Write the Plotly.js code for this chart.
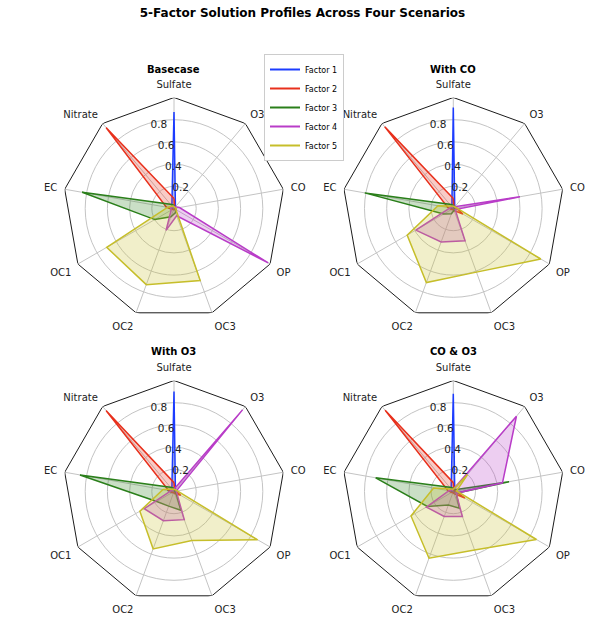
<!DOCTYPE html>
<html><head><meta charset="utf-8">
<script src="https://cdn.plot.ly/plotly-3.0.1.min.js"></script>
<style>html,body{margin:0;padding:0;background:#fff}</style>
</head><body><div id="chart" style="width:605px;height:625px"></div>
<script>
// Categories in counter-clockwise order starting at the top
const categories = ['Sulfate','Nitrate','EC','OC1','OC2','OC3','OP','CO','O3'];
const factorNames = ['Factor 1','Factor 2','Factor 3','Factor 4','Factor 5'];
const scenarioNames = ['Basecase','With CO','With O3','CO & O3'];
const radialTicks = [0.2, 0.4, 0.6, 0.8];
const radialMax = 1.0;

// values per factor, order as in categories
const basecase = [
  [0.87, 0.03, 0.02, 0.01, 0.01, 0.01, 0.01, 0.01, 0.02],
  [0.09, 0.95, 0.07, 0.02, 0.01, 0.01, 0.02, 0.01, 0.01],
  [0.03, 0.05, 0.84, 0.20, 0.08, 0.04, 0.02, 0.01, 0.01],
  [0.02, 0.02, 0.03, 0.03, 0.21, 0.07, 0.98, 0.05, 0.02],
  [0.02, 0.03, 0.06, 0.70, 0.73, 0.69, 0.02, 0.02, 0.01]
];
const withCO = [
  [0.91, 0.02, 0.02, 0.01, 0.01, 0.01, 0.01, 0.01, 0.02],
  [0.09, 0.96, 0.05, 0.02, 0.01, 0.02, 0.10, 0.03, 0.01],
  [0.03, 0.05, 0.81, 0.10, 0.05, 0.02, 0.02, 0.01, 0.01],
  [0.02, 0.02, 0.03, 0.39, 0.32, 0.31, 0.02, 0.61, 0.02],
  [0.02, 0.03, 0.14, 0.48, 0.71, 0.61, 0.91, 0.03, 0.02]
];
const withO3 = [
  [0.90, 0.03, 0.06, 0.02, 0.01, 0.01, 0.01, 0.01, 0.02],
  [0.08, 0.95, 0.05, 0.02, 0.01, 0.02, 0.07, 0.02, 0.01],
  [0.03, 0.05, 0.86, 0.18, 0.14, 0.18, 0.02, 0.01, 0.01],
  [0.02, 0.02, 0.03, 0.31, 0.28, 0.27, 0.03, 0.02, 0.96],
  [0.02, 0.03, 0.10, 0.355, 0.55, 0.47, 0.87, 0.03, 0.02]
];
const coAndO3 = [
  [0.88, 0.03, 0.02, 0.01, 0.01, 0.01, 0.01, 0.01, 0.02],
  [0.08, 0.955, 0.05, 0.02, 0.01, 0.02, 0.12, 0.02, 0.01],
  [0.03, 0.05, 0.71, 0.27, 0.13, 0.16, 0.03, 0.51, 0.02],
  [0.02, 0.02, 0.04, 0.28, 0.24, 0.24, 0.03, 0.45, 0.885],
  [0.02, 0.03, 0.18, 0.44, 0.64, 0.56, 0.865, 0.03, 0.20]
];
const scenarios = [basecase, withCO, withO3, coAndO3];

const lineColors = ['#1c3cff','#e8301c','#2a7f1a','#b93cc8','#c6be2a'];
const fillColors = ['rgba(28,60,255,0.25)','rgba(232,48,28,0.25)','rgba(42,127,26,0.25)','rgba(185,60,200,0.25)','rgba(198,190,42,0.25)'];

const FONT = 'DejaVu Sans, Liberation Sans, sans-serif';
const W = 605, H = 625, RPX = 111;
const centers = [[174, 208.5], [453.3, 208.5], [174, 491.5], [453.3, 491.5]];
const titleY = [69.3, 69.3, 351, 351];
const RAXIS_ANGLE = 109;

const close = a => a.concat([a[0]]);
const closedCats = close(categories);

const traces = [];
const layout = {
  width: W, height: H,
  margin: {l:0, r:0, t:0, b:0},
  paper_bgcolor: '#fff',
  font: {family: FONT, color: '#222'},
  showlegend: true,
  title: {text: '<b>5-Factor Solution Profiles Across Four Scenarios</b>', x: 0.5, xanchor: 'center', y: 1 - 13/H, yanchor: 'middle', font: {size: 12, color: '#000', family: FONT}},
  legend: {x: 264/W, y: 1 - 54/H, xanchor: 'left', yanchor: 'top', font: {size: 8, color: '#000'}, bordercolor: '#cccccc', borderwidth: 1, bgcolor: '#fff', tracegroupgap: 0},
  annotations: []
};

scenarios.forEach((sc, si) => {
  const pid = si === 0 ? 'polar' : 'polar' + (si + 1);
  const [cx, cy] = centers[si];
  layout[pid] = {
    domain: {x: [(cx - RPX)/W, (cx + RPX)/W], y: [1 - (cy + RPX)/H, 1 - (cy - RPX)/H]},
    bgcolor: 'rgba(0,0,0,0)',
    angularaxis: {type: 'category', categoryarray: categories, rotation: 90, direction: 'counterclockwise',
      showline: false, gridcolor: '#c4c4c4', gridwidth: 1, ticks: 'outside', ticklen: 5, tickcolor: 'rgba(0,0,0,0)',
      tickfont: {size: 10, color: '#222'}},
    radialaxis: {range: [0, radialMax], tickvals: radialTicks, ticktext: radialTicks.map(String), showline: false,
      gridcolor: '#c4c4c4', gridwidth: 1, ticks: '', angle: RAXIS_ANGLE, tickangle: RAXIS_ANGLE,
      tickfont: {size: 10.5, color: '#222'}}
  };
  // outer polygon frame
  traces.push({type: 'scatterpolar', subplot: pid, theta: closedCats, r: closedCats.map(() => radialMax),
    mode: 'lines', line: {color: '#000', width: 0.9}, hoverinfo: 'skip', showlegend: false});
  sc.forEach((vals, fi) => {
    traces.push({type: 'scatterpolar', subplot: pid, theta: closedCats, r: close(vals), name: factorNames[fi],
      mode: 'lines', fill: 'toself', fillcolor: fillColors[fi], line: {color: lineColors[fi], width: 1.5},
      showlegend: false, hoverinfo: 'skip'});
  });
  layout.annotations.push({text: '<b>' + scenarioNames[si] + '</b>', xref: 'paper', yref: 'paper',
    x: cx / W, y: 1 - titleY[si] / H, xanchor: 'center', yanchor: 'middle', showarrow: false,
    font: {size: 10, color: '#000', family: FONT}});
});

// legend entries (lines only)
factorNames.forEach((n, fi) => {
  traces.push({type: 'scatterpolar', subplot: 'polar', theta: [null], r: [null], name: n, mode: 'lines',
    line: {color: lineColors[fi], width: 2}, showlegend: true, hoverinfo: 'skip'});
});

Plotly.newPlot('chart', traces, layout, {displayModeBar: false, staticPlot: true});
</script></body></html>
